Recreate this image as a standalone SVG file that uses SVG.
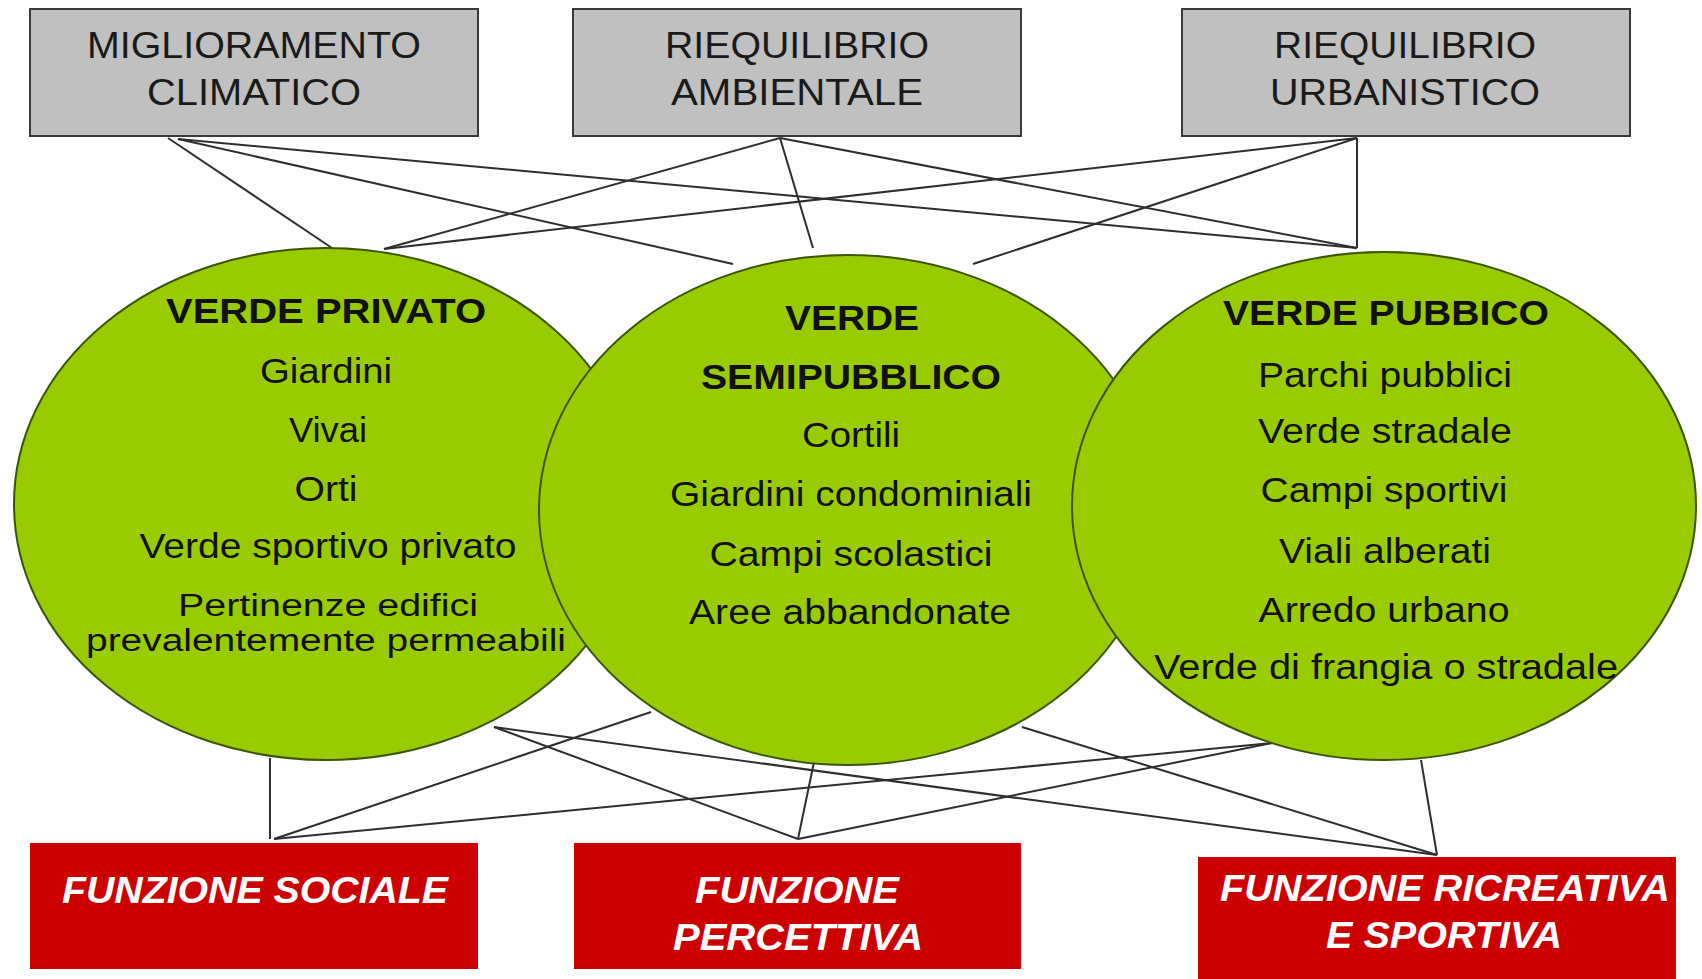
<svg xmlns="http://www.w3.org/2000/svg" width="1702" height="979" viewBox="0 0 1702 979">
<style>
.top{fill:#c0c0c0;stroke:#3a3a3a;stroke-width:2}
.red{fill:#cc0000}
.ell{fill:#99cc00;stroke:#3b5600;stroke-width:2}
.con line{stroke:#2e2e2e;stroke-width:2;fill:none}
text{font-family:"Liberation Sans",Arial,sans-serif;text-anchor:middle}
.tt{font-size:36px;fill:#1a1a1a}
.et{font-size:35px;fill:#111}
.es{font-size:31px;fill:#111}
.eh{font-size:35px;font-weight:bold;fill:#111}
.rt{font-size:36px;font-weight:bold;font-style:italic;fill:#ffffff}
</style>
<rect width="1702" height="979" fill="#ffffff"/>
<g id="connectors" class="con">
<line x1="168" y1="138" x2="332" y2="248"/>
<line x1="178" y1="139" x2="733" y2="264"/>
<line x1="178" y1="139" x2="1357" y2="248"/>
<line x1="780" y1="138" x2="384" y2="249"/>
<line x1="780" y1="138" x2="813" y2="248"/>
<line x1="780" y1="138" x2="1357" y2="248"/>
<line x1="1357" y1="138" x2="384" y2="249"/>
<line x1="1357" y1="138" x2="973" y2="264"/>
<line x1="1357" y1="138" x2="1357" y2="248"/>
<line x1="270" y1="758" x2="270" y2="839"/>
<line x1="651" y1="712" x2="274" y2="839"/>
<line x1="1272" y1="743" x2="274" y2="839"/>
<line x1="494" y1="727" x2="798" y2="839"/>
<line x1="814" y1="762" x2="798" y2="839"/>
<line x1="1272" y1="743" x2="798" y2="839"/>
<line x1="494" y1="727" x2="1437" y2="855"/>
<line x1="1022" y1="727" x2="1437" y2="855"/>
<line x1="1421" y1="760" x2="1437" y2="855"/>
</g>
<g id="migl-climatico">
<rect class="top" x="30" y="9" width="448" height="127"/>
<text class="tt" x="254" y="58" textLength="334" lengthAdjust="spacingAndGlyphs">MIGLIORAMENTO</text>
<text class="tt" x="254" y="105" textLength="214" lengthAdjust="spacingAndGlyphs">CLIMATICO</text>
</g>
<g id="riequ-ambientale">
<rect class="top" x="573" y="9" width="448" height="127"/>
<text class="tt" x="797" y="58" textLength="264" lengthAdjust="spacingAndGlyphs">RIEQUILIBRIO</text>
<text class="tt" x="797" y="105" textLength="252" lengthAdjust="spacingAndGlyphs">AMBIENTALE</text>
</g>
<g id="riequ-urbanistico">
<rect class="top" x="1182" y="9" width="448" height="127"/>
<text class="tt" x="1405" y="58" textLength="262" lengthAdjust="spacingAndGlyphs">RIEQUILIBRIO</text>
<text class="tt" x="1405" y="105" textLength="270" lengthAdjust="spacingAndGlyphs">URBANISTICO</text>
</g>
<g id="verde-privato">
<ellipse class="ell" cx="326" cy="504" rx="312" ry="256"/>
<text class="eh" x="326" y="323" textLength="320" lengthAdjust="spacingAndGlyphs">VERDE PRIVATO</text>
<text class="et" x="326" y="383" textLength="132" lengthAdjust="spacingAndGlyphs">Giardini</text>
<text class="et" x="328" y="442" textLength="78" lengthAdjust="spacingAndGlyphs">Vivai</text>
<text class="et" x="326" y="501" textLength="63" lengthAdjust="spacingAndGlyphs">Orti</text>
<text class="et" x="328" y="558" textLength="377" lengthAdjust="spacingAndGlyphs">Verde sportivo privato</text>
<text class="es" x="328" y="616" textLength="300" lengthAdjust="spacingAndGlyphs">Pertinenze edifici</text>
<text class="es" x="326" y="651" textLength="480" lengthAdjust="spacingAndGlyphs">prevalentemente permeabili</text>
</g>
<g id="verde-semipubblico">
<ellipse class="ell" cx="848" cy="510" rx="309" ry="255"/>
<text class="eh" x="852" y="330" textLength="134" lengthAdjust="spacingAndGlyphs">VERDE</text>
<text class="eh" x="851" y="389" textLength="300" lengthAdjust="spacingAndGlyphs">SEMIPUBBLICO</text>
<text class="et" x="851" y="447" textLength="98" lengthAdjust="spacingAndGlyphs">Cortili</text>
<text class="et" x="851" y="506" textLength="362" lengthAdjust="spacingAndGlyphs">Giardini condominiali</text>
<text class="et" x="851" y="566" textLength="283" lengthAdjust="spacingAndGlyphs">Campi scolastici</text>
<text class="et" x="850" y="624" textLength="322" lengthAdjust="spacingAndGlyphs">Aree abbandonate</text>
</g>
<g id="verde-pubblico">
<ellipse class="ell" cx="1384" cy="506" rx="312" ry="254"/>
<text class="eh" x="1386" y="325" textLength="326" lengthAdjust="spacingAndGlyphs">VERDE PUBBICO</text>
<text class="et" x="1385" y="387" textLength="254" lengthAdjust="spacingAndGlyphs">Parchi pubblici</text>
<text class="et" x="1385" y="443" textLength="254" lengthAdjust="spacingAndGlyphs">Verde stradale</text>
<text class="et" x="1384" y="502" textLength="247" lengthAdjust="spacingAndGlyphs">Campi sportivi</text>
<text class="et" x="1385" y="563" textLength="212" lengthAdjust="spacingAndGlyphs">Viali alberati</text>
<text class="et" x="1384" y="622" textLength="251" lengthAdjust="spacingAndGlyphs">Arredo urbano</text>
<text class="et" x="1386" y="679" textLength="464" lengthAdjust="spacingAndGlyphs">Verde di frangia o stradale</text>
</g>
<g id="funzione-sociale">
<rect class="red" x="30" y="843" width="448" height="126"/>
<text class="rt" x="255" y="903" textLength="386" lengthAdjust="spacingAndGlyphs">FUNZIONE SOCIALE</text>
</g>
<g id="funzione-percettiva">
<rect class="red" x="574" y="843" width="447" height="126"/>
<text class="rt" x="797" y="903" textLength="204" lengthAdjust="spacingAndGlyphs">FUNZIONE</text>
<text class="rt" x="798" y="950" textLength="250" lengthAdjust="spacingAndGlyphs">PERCETTIVA</text>
</g>
<g id="funzione-ricreativa">
<rect class="red" x="1198" y="857" width="478" height="130"/>
<text class="rt" x="1445" y="901" textLength="450" lengthAdjust="spacingAndGlyphs">FUNZIONE RICREATIVA</text>
<text class="rt" x="1444" y="948" textLength="236" lengthAdjust="spacingAndGlyphs">E SPORTIVA</text>
</g>
</svg>
